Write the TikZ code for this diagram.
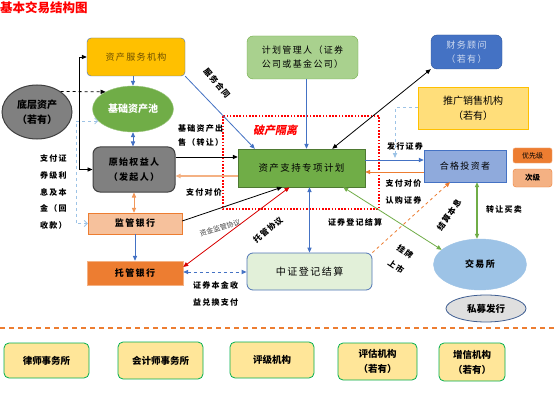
\documentclass[tikz,border=0pt]{standalone}
\usepackage{fontspec}
\setmainfont{Noto Sans CJK SC}
\newfontfamily\cjksp[LetterSpace=15]{Noto Sans CJK SC}
\newfontfamily\cjkslant[FakeSlant=0.2]{Noto Sans CJK SC}
\usetikzlibrary{arrows.meta,shapes.geometric,calc}
\definecolor{cOrange}{HTML}{ED7D31}
\definecolor{cLOrange}{HTML}{F4B183}
\definecolor{cGold}{HTML}{FFC000}
\definecolor{cLGold}{HTML}{FFE699}
\definecolor{cGreen}{HTML}{70AD47}
\definecolor{cLGreen}{HTML}{A9D18E}
\definecolor{cVLGreen}{HTML}{E2F0D9}
\definecolor{cBlue}{HTML}{4472C4}
\definecolor{cDBlue}{HTML}{2F5597}
\definecolor{cLBlue}{HTML}{8FAADC}
\definecolor{cSky}{HTML}{9DC3E6}
\definecolor{cDash}{HTML}{9DC3E6}
\definecolor{cGray}{HTML}{808080}
\definecolor{cDGray}{HTML}{404040}
\definecolor{cBrown}{HTML}{6B4E00}
\definecolor{cBGreen}{HTML}{00B050}
\begin{document}
\begin{tikzpicture}[x=1pt,y=-1pt,
  >={Triangle[length=5pt,width=4.2pt]},
  box/.style={draw,rounded corners=4pt,align=center,inner sep=1pt,
    font=\cjksp\fontsize{9}{14}\selectfont},
  sqbox/.style={draw,align=center,inner sep=1pt,
    font=\cjksp\bfseries\fontsize{9}{13}\selectfont},
  ell/.style={ellipse,draw,align=center,inner sep=0pt},
  botbox/.style={draw=cBGreen,fill=cLGold,line width=0.8pt,rounded corners=5pt,
    align=center,inner sep=1pt,font=\bfseries\fontsize{9.5}{15}\selectfont},
  lab/.style={inner sep=0pt,font=\cjksp\bfseries\fontsize{8}{10}\selectfont},
  conn/.style={line width=0.8pt},
  barb/.style={{Straight Barb[length=3pt,width=6pt]}-{Straight Barb[length=3pt,width=6pt]}},
]
\useasboundingbox (0,0) rectangle (554,401);
\fill[white] (0,0) rectangle (554,401);

% title
\node[anchor=west,inner sep=0pt,text=red,font=\bfseries\fontsize{12.5}{14}\selectfont] (title) at (0,8) {基本交易结构图};

% nodes
\node[box,fill=cGold,draw=cBlue,text=cBrown,minimum width=98pt,minimum height=38pt] (svc) at (136,57) {资产服务机构};
\node[ell,fill=cGray,draw=cDGray,line width=1pt,minimum width=70pt,minimum height=54pt,
  font=\bfseries\fontsize{10}{15}\selectfont] (under) at (37,112) {底层资产\\（若有）};
\node[ell,fill=cGreen,draw=cGreen!70,text=white,minimum width=81pt,minimum height=46pt,
  font=\bfseries\fontsize{10}{12}\selectfont] (pool) at (133,109) {基础资产池};
\node[box,fill=cGray,draw=cDGray,line width=1pt,rounded corners=7pt,minimum width=82pt,minimum height=45pt,
  font=\cjksp\bfseries\fontsize{9}{15}\selectfont] (orig) at (134,169.5) {原始权益人\\（发起人）};
\node[sqbox,fill=cLOrange!80,draw=cOrange,minimum width=94pt,minimum height=21pt] (sup) at (135,223.5) {监管银行};
\node[sqbox,fill=cOrange,draw=cLOrange,minimum width=96pt,minimum height=24pt] (cust) at (135,273) {托管银行};
\node[box,fill=cLGreen,draw=cGreen,minimum width=111pt,minimum height=43pt,rounded corners=6pt] (mgr) at (302.5,57.5) {计划管理人（证券\\公司或基金公司）};
\node[box,fill=cBlue,draw=cDBlue,text=cLBlue!40,minimum width=71pt,minimum height=34pt,rounded corners=6pt] (fa) at (466.5,52) {财务顾问\\（若有）};
\node[draw=cGold,fill=cLGold!80!cGold,line width=0.8pt,align=center,inner sep=1pt,minimum width=110pt,minimum height=42pt,
  font=\fontsize{10}{15}\selectfont] (promo) at (473,108) {推广销售机构\\（若有）};
\node[sqbox,fill=cGreen,draw=cGreen!70!black,font=\cjksp\fontsize{9.5}{13}\selectfont,minimum width=127pt,minimum height=38pt] (plan) at (301.5,168) {资产支持专项计划};
\node[sqbox,fill=cLBlue,draw=cBlue,font=\cjksp\fontsize{9}{13}\selectfont,minimum width=82pt,minimum height=32pt] (inv) at (465,166) {合格投资者};
\node[draw=cLOrange,fill=cOrange,rounded corners=2pt,inner sep=0pt,minimum width=39pt,minimum height=15pt,
  font=\fontsize{7}{9}\selectfont] (pri) at (532.5,155.5) {优先级};
\node[draw=cOrange,fill=cLOrange,rounded corners=3pt,inner sep=0pt,minimum width=39pt,minimum height=18pt,
  font=\bfseries\fontsize{7.5}{9}\selectfont] (sub) at (532.5,178) {次级};
\node[ell,fill=cSky,draw=cSky,minimum width=93pt,minimum height=51pt,
  font=\cjksp\bfseries\fontsize{9}{12}\selectfont] (exch) at (480,264.5) {交易所};
\node[ell,fill=gray!25,draw=cDBlue!80!gray,line width=0.8pt,minimum width=80pt,minimum height=27pt,
  font=\bfseries\fontsize{9.5}{12}\selectfont] (pvt) at (486,308.5) {私募发行};
\node[box,fill=cVLGreen,draw=cBlue!80!gray,line width=0.8pt,rounded corners=6pt,minimum width=125pt,minimum height=37pt,
  font=\cjksp\fontsize{10}{13}\selectfont] (csdc) at (309.5,271.5) {中证登记结算};

% bankruptcy remote frame
\draw[red,line width=1.6pt,dash pattern=on 1.6pt off 1.6pt] (223,116) rectangle (379,209);
\node[text=red,inner sep=0pt,font=\cjkslant\bfseries\fontsize{11}{13}\selectfont] (iso) at (275,130) {破产隔离};

% separator
\draw[cOrange,line width=1.2pt,dash pattern=on 5pt off 4pt] (0,328) -- (554,328);

% bottom boxes
\node[botbox,minimum width=85pt,minimum height=35pt] (b1) at (46.5,360.5) {律师事务所};
\node[botbox,minimum width=85pt,minimum height=37pt] (b2) at (160.5,360.5) {会计师事务所};
\node[botbox,minimum width=84pt,minimum height=36pt] (b3) at (272,360) {评级机构};
\node[botbox,minimum width=79pt,minimum height=37pt] (b4) at (377.5,361.5) {评估机构\\（若有）};
\node[botbox,minimum width=66pt,minimum height=38pt] (b5) at (472,362) {增信机构\\（若有）};

% connectors
\draw[conn,dashed,->] (under.41) -- (pool.148);
\draw[conn,<->] (svc.west) -- ++(-7,0) |- (orig.west);
\draw[conn,cDash,dashed,barb] (pool.199) -| (76,223.5) -- (sup.west);
\draw[conn,cBlue,->] (pool.north |- svc.south) -- (pool.north);
\draw[conn,cBlue,<->] (pool.south) -- (pool.south |- orig.north);
\draw[conn,cOrange!80,<->] (orig.south) -- (orig.south |- sup.north);
\draw[conn,cBlue,->] (sup.south) -- (sup.south |- cust.north);
\draw[conn,cBlue,->] (svc.south east) -- ([xshift=17pt]plan.north west);
\draw[conn,cBlue,->] ([xshift=4pt]mgr.south) -- ([xshift=4pt]mgr.south |- plan.north);
\draw[conn,<->] (fa.south west) -- ([xshift=-33pt]plan.north east);
\draw[conn,->] (orig.east |- 0,157) -- (plan.west |- 0,157);
\draw[conn,cLOrange,line width=1.2pt,->] (plan.west |- 0,176) -- (orig.east |- 0,176);
\draw[conn,->] (sup.east |- 0,221) -- ([xshift=-19.5pt]plan.south);
\draw[conn,red!85!black,<->] (cust.east |- 0,267) -- ([xshift=-12pt]plan.south);
\draw[conn,cBlue,dashed,line width=1pt,<->] (cust.east |- 0,272) -- (csdc.west |- 0,272);
\draw[conn,cBlue,<->] (csdc.north |- plan.south) -- (csdc.north);
\draw[conn,cGreen,<->] ([xshift=-22pt]plan.south east) -- (exch.159);
\draw[conn,cOrange,dashed,->] (csdc.north east) -- ([xshift=-15pt]inv.south);
\draw[conn,cBlue,line width=1pt,->] (plan.east |- 0,160) -- (inv.west |- 0,160);
\coordinate (pj) at (395,158);
\draw[conn,cDash,dashed,line width=1pt,->] (promo.west) -| (pj);
\draw[conn,cOrange,->] (inv.west |- 0,172) -- (plan.east |- 0,172);
\draw[conn,cGreen,line width=1.2pt,<->] ([xshift=12pt]inv.south) -- ([xshift=12pt]inv.south |- exch.north);

% labels
\node[lab,rotate=-50] (l1) at (217,83) {服务合同};
\node[lab,anchor=west] (l2) at (178,128) {基础资产出};
\node[lab,anchor=west] (l3) at (178,142) {售（转让）};
\node[lab] (l4) at (204,192) {支付对价};
\node[lab,rotate=17,text=cDGray,font=\fontsize{7}{9}\selectfont] (l5) at (220,228) {资金监管协议};
\node[lab,rotate=40] (l6) at (268,230) {托管协议};
\node[lab,anchor=west] (l7) at (193,285) {证券本金收};
\node[lab,anchor=west] (l8) at (193,302) {益兑换支付};
\node[lab] (l9) at (355,222) {证券登记结算};
\node[lab,rotate=-34] (l10) at (405,252) {挂牌};
\node[lab,rotate=-34] (l11) at (396,267) {上市};
\node[lab,rotate=55] (l12) at (449,215) {结算本息};
\node[lab] (l13) at (405,146) {发行证券};
\node[lab] (l14) at (403.5,183) {支付对价};
\node[lab] (l15) at (403.5,200) {认购证券};
\node[lab] (l16) at (504,209) {转让买卖};
\node[lab,anchor=west] (l17) at (40,158) {支付证};
\node[lab,anchor=west] (l18) at (40,175) {券级利};
\node[lab,anchor=west] (l19) at (40,192) {息及本};
\node[lab,anchor=west] (l20) at (40,208) {金（回};
\node[lab,anchor=west] (l21) at (40,225) {收款）};
\end{tikzpicture}
\end{document}
